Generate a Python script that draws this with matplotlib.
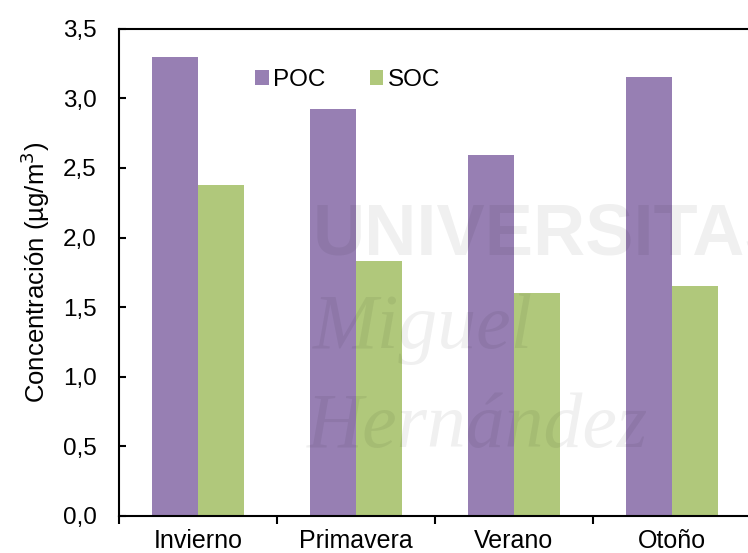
import matplotlib
matplotlib.use("Agg")
import matplotlib.pyplot as plt
import numpy as np

plt.rcParams["font.family"] = ["Liberation Sans", "DejaVu Sans"]

# data
seasons = ["Invierno", "Primavera", "Verano", "Otoño"]
poc = [3.30, 2.92, 2.595, 3.155]
soc = [2.38, 1.83, 1.60, 1.65]
yticks = [0.0, 0.5, 1.0, 1.5, 2.0, 2.5, 3.0, 3.5]

c_poc = "#977fb3"
c_soc = "#b0c87b"

fig = plt.figure(figsize=(7.48, 5.53), dpi=100)
ax = fig.add_axes([0.159, 0.067, 0.845, 0.881])

x = np.arange(len(seasons))
w = 0.29
ax.bar(x - w / 2, poc, w, color=c_poc, label="POC", zorder=2)
ax.bar(x + w / 2, soc, w, color=c_soc, label="SOC", zorder=2)

ax.set_xlim(-0.5, 3.5)
ax.set_ylim(0, 3.5)
ax.set_yticks(yticks)
ax.set_yticklabels([f"{v:.1f}".replace(".", ",") for v in yticks])

# category boundaries as tick marks, names centred as minor labels
ax.set_xticks(np.arange(-0.5, 3.6, 1.0))
ax.set_xticklabels([])
ax.set_xticks(x, minor=True)
ax.set_xticklabels(seasons, minor=True)
ax.tick_params(axis="x", which="major", direction="out", length=6, width=1.5)
ax.tick_params(axis="x", which="minor", length=0, pad=9.5, labelsize=18)
ax.tick_params(axis="y", direction="in", length=5, width=1.5, pad=16, labelsize=17.5)

for s in ["left", "bottom", "top"]:
    ax.spines[s].set_linewidth(1.5)
ax.spines["right"].set_visible(False)

ax.set_ylabel("Concentración (µg/m$^3$)", fontsize=18.5, labelpad=8)

ax.legend(loc="center", bbox_to_anchor=(0.362, 0.895), ncol=2, frameon=False,
          fontsize=17.5, handlelength=0.57, handleheight=0.57,
          handletextpad=0.2, columnspacing=1.8, borderpad=0)

# faint watermark over the plot
wm = dict(color="black", alpha=0.06, zorder=5, transform=fig.transFigure)
fig.text(0.418, 0.575, "UNIVERSITAS", fontsize=52, fontweight="bold",
         va="center", ha="left", **wm)
fig.text(0.418, 0.405, "Miguel", fontsize=56, style="italic",
         family="Liberation Serif", va="center", ha="left", **wm)
fig.text(0.41, 0.225, "Hernández", fontsize=56, style="italic",
         family="Liberation Serif", va="center", ha="left", **wm)

fig.savefig("out.png", dpi=100)
